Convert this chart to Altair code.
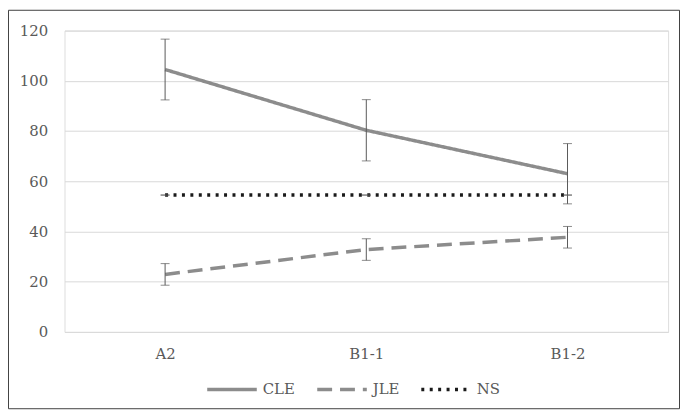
import altair as alt
import pandas as pd

categories = ["A2", "B1-1", "B1-2"]
series_names = ["CLE", "JLE", "NS"]
cle_values = [104.5, 80.3, 63.0]
cle_errors = [12.1, 12.2, 12.0]
jle_values = [22.9, 32.8, 37.7]
jle_errors = [4.3, 4.3, 4.3]
ns_values = [54.5, 54.5, 54.5]
ns_errors = [0.0, 0.0, 0.0]
y_ticks = [0, 20, 40, 60, 80, 100, 120]

rows = []
for name, vals, errs in [("CLE", cle_values, cle_errors),
                         ("JLE", jle_values, jle_errors),
                         ("NS", ns_values, ns_errors)]:
    for c, v, e in zip(categories, vals, errs):
        rows.append({"cat": c, "series": name, "value": v, "lo": v - e, "hi": v + e})
df = pd.DataFrame(rows)
caps = pd.concat([
    df[["cat", "series"]].assign(cap=df["lo"]),
    df[["cat", "series"]].assign(cap=df["hi"]),
])

FONT = "DejaVu Serif"
TXT = "#595959"

legend_cfg = dict(orient="none", legendX=142, legendY=335,
                  direction="horizontal", title=None,
                  symbolType="stroke", symbolSize=2500,
                  symbolStrokeWidth=3.5, padding=0,
                  labelOffset=4, columnPadding=15,
                  labelFont=FONT, labelFontSize=15, labelColor=TXT)

xenc = alt.X("cat:N", sort=categories, title=None,
             scale=alt.Scale(type="point", padding=0.5),
             axis=alt.Axis(domain=False, ticks=False, grid=False, labelAngle=0,
                           labelPadding=15, labelFont=FONT, labelFontSize=15,
                           labelColor=TXT))
yscale = alt.Scale(domain=[0, 120], nice=False)

lines = alt.Chart(df).mark_line(strokeWidth=3.5, strokeJoin="round").encode(
    x=xenc,
    y=alt.Y("value:Q", scale=yscale, title=None,
            axis=alt.Axis(values=y_ticks, domain=False, ticks=False,
                          gridColor="#d9d9d9", gridWidth=1, labelPadding=17,
                          labelFont=FONT, labelFontSize=15, labelColor=TXT)),
    color=alt.Color("series:N", sort=series_names,
                    scale=alt.Scale(domain=series_names,
                                    range=["#8c8c8c", "#8c8c8c", "#1a1a1a"]),
                    legend=alt.Legend(**legend_cfg)),
    strokeDash=alt.StrokeDash("series:N", sort=series_names,
                              scale=alt.Scale(domain=series_names,
                                              range=[[1, 0], [15, 8], [3, 5.5]]),
                              legend=alt.Legend(**legend_cfg)),
)

bars = alt.Chart(df).mark_rule(color="#595959", strokeWidth=1).encode(
    x=alt.X("cat:N", sort=categories),
    y=alt.Y("lo:Q", scale=yscale),
    y2="hi:Q",
)

ticks = alt.Chart(caps).mark_tick(color="#595959", thickness=1, size=9).encode(
    x=alt.X("cat:N", sort=categories),
    y=alt.Y("cap:Q", scale=yscale),
)

border = alt.Chart(pd.DataFrame({"a": [0]})).mark_rect(
    fill=None, stroke="#404040", strokeWidth=1
).encode(
    x=alt.value(-56.5), x2=alt.value(620.5),
    y=alt.value(-20.5), y2=alt.value(381.5),
)

chart = alt.layer(border, lines, bars, ticks).properties(
    width=609, height=304, padding=0
).configure_view(stroke=None).configure(background="white")

chart.save("out.html", embed_options={"renderer": "svg", "actions": False})
